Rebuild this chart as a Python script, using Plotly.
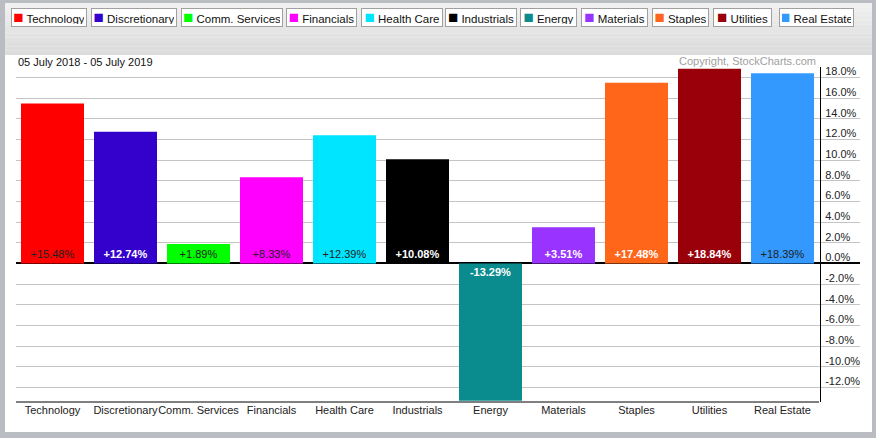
import plotly.graph_objects as go

# ---- data ----
categories = ["Technology", "Discretionary", "Comm. Services", "Financials", "Health Care",
              "Industrials", "Energy", "Materials", "Staples", "Utilities", "Real Estate"]
values = [15.48, 12.74, 1.89, 8.33, 12.39, 10.08, -13.29, 3.51, 17.48, 18.84, 18.39]
tick_vals = [-12, -10, -8, -6, -4, -2, 0, 2, 4, 6, 8, 10, 12, 14, 16, 18]
date_label = "05 July 2018 - 05 July 2019"
copyright_label = "Copyright, StockCharts.com"

# ---- styles ----
colors = ["#ff0000", "#3300cc", "#00ff00", "#ff00ff", "#00e5ff", "#000000",
          "#0a8c8f", "#9933ff", "#ff6619", "#990009", "#3399ff"]
label_light = [False, True, False, False, False, True, True, True, True, True, False]

W, H = 876, 438
ML, MR, MT, MB = 16, 16, 67, 36
PW = W - ML - MR
PH = H - MT - MB
CAT_PX = 73.0


def px_x(p):
    return (p - ML) / PW


def px_y(p):
    return (H - MB - p) / PH


texts = []
tcolors = []
for v, light in zip(values, label_light):
    s = f"{v:+.2f}%"
    texts.append(f"<b>{s}</b>" if light else s)
    tcolors.append("#ffffff" if light else "#222222")

tick_text = [f"{v:.1f}%" for v in tick_vals]

fig = go.Figure()
fig.add_trace(go.Bar(
    x=categories, y=values,
    marker=dict(color=colors, line=dict(width=0)),
    text=texts, textposition="inside", insidetextanchor="start",
    textangle=0, constraintext="none",
    insidetextfont=dict(color=tcolors, size=11, family="Liberation Sans, Arial"),
    hoverinfo="x+y", showlegend=False,
))

x_right = -0.5 + PW / CAT_PX
axis_end_px = ML + len(categories) * CAT_PX

shapes = []
# white card
shapes.append(dict(type="rect", xref="paper", yref="paper", layer="below",
                   x0=px_x(5), x1=px_x(872), y0=px_y(432), y1=px_y(3),
                   fillcolor="#ffffff", line=dict(width=0)))
# header gradient bands
n_b = 12
top, bot = 3, 55
for i in range(n_b):
    y0 = top + (bot - top) * i / n_b
    y1 = top + (bot - top) * (i + 1) / n_b
    c = int(0xf0 - (0xf0 - 0xdc) * i / (n_b - 1))
    shapes.append(dict(type="rect", xref="paper", yref="paper", layer="below",
                       x0=px_x(5), x1=px_x(872), y0=px_y(y1), y1=px_y(y0),
                       fillcolor=f"rgb({c},{c},{c})", line=dict(width=0)))
# bottom axis line (only under the bars)
shapes.append(dict(type="line", xref="x", yref="paper",
                   x0=-0.5, x1=len(categories) - 0.5, y0=0, y1=0,
                   line=dict(color="#000000", width=1)))

annotations = []
annotations.append(dict(text=date_label, xref="paper", yref="paper",
                        x=px_x(16), y=px_y(62), xanchor="left", yanchor="middle",
                        showarrow=False, font=dict(size=11, color="#111111")))
annotations.append(dict(text=copyright_label, xref="paper", yref="paper",
                        x=px_x(818), y=px_y(61), xanchor="right", yanchor="middle",
                        showarrow=False, font=dict(size=11, color="#a0a0a0")))

# legend "buttons"
btn_left = [11, 91, 181, 286, 361, 445, 520, 581, 652, 713, 779]
btn_right = [87, 177, 283, 357, 443, 517, 577, 648, 709, 772, 854]
for name, col, l, r in zip(categories, colors, btn_left, btn_right):
    w = r - l
    annotations.append(dict(
        text=f'<span style="color:{col};font-size:17px">■</span> {name}',
        xref="paper", yref="paper", x=px_x((l + r) / 2), y=px_y(18),
        xanchor="center", yanchor="middle", showarrow=False,
        width=w - 6, height=13, borderpad=2, borderwidth=1,
        bordercolor="#a0a0a0", bgcolor="#ffffff", align="center",
        font=dict(size=11.5, color="#111111")))

fig.update_layout(
    width=W, height=H,
    margin=dict(l=ML, r=MR, t=MT, b=MB, pad=0, autoexpand=False),
    paper_bgcolor="#b9bdc1", plot_bgcolor="rgba(0,0,0,0)",
    font=dict(family="Liberation Sans, Arial, sans-serif", size=11, color="#222222"),
    bargap=0.137,
    xaxis=dict(type="category", range=[-0.5, x_right], showgrid=False, showline=False,
               zeroline=False, ticks="", tickangle=0, automargin=False,
               tickfont=dict(size=11, color="#222222"), fixedrange=True),
    yaxis=dict(range=[-13.4, 19.0], side="right", anchor="free",
               position=px_x(axis_end_px + 1), automargin=False,
               tickvals=tick_vals, ticktext=tick_text,
               showgrid=True, gridcolor="#c4c4c4", gridwidth=1,
               zeroline=True, zerolinecolor="#000000", zerolinewidth=1.5,
               showline=True, linecolor="#000000", linewidth=1,
               ticks="", ticklabelstandoff=2, ticklabelshift=-6,
               tickfont=dict(size=11, color="#222222"), fixedrange=True),
    shapes=shapes, annotations=annotations,
)

fig.write_html("out.html", config={"displayModeBar": False},
               post_script="document.body.style.margin='0';document.body.style.overflow='hidden';")
